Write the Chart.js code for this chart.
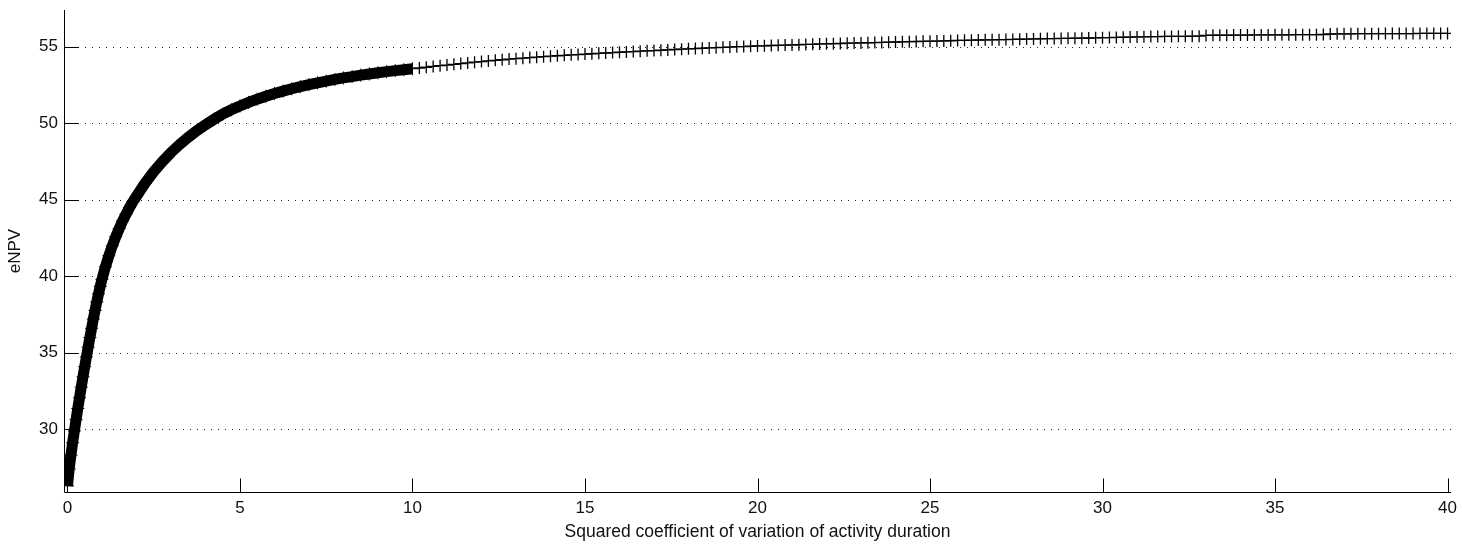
<!DOCTYPE html>
<html>
<head>
<meta charset="utf-8">
<script src="https://cdn.jsdelivr.net/npm/chart.js@4"></script>
<style>
  html, body { margin: 0; padding: 0; background: #fff; }
  canvas { display: block; }
</style>
</head>
<body>
<canvas id="grafico" width="1462" height="544"></canvas>
<script>
// ticks
const xTicks = [0, 5, 10, 15, 20, 25, 30, 35, 40];
const yTicks = [30, 35, 40, 45, 50, 55];

// parte densa (0 a 10)
const denseX = [0, 0.05, 0.1, 0.15, 0.2, 0.25, 0.3, 0.35, 0.4, 0.45, 0.5, 0.55, 0.6, 0.65, 0.7, 0.75, 0.8, 0.85, 0.9, 0.95, 1.0,
  1.1, 1.2, 1.3, 1.4, 1.5, 1.6, 1.7, 1.8, 1.9, 2.0,
  2.25, 2.5, 2.75, 3.0, 3.25, 3.5, 3.75, 4.0, 4.25, 4.5, 4.75, 5.0, 5.25, 5.5, 5.75, 6.0,
  6.25, 6.5, 6.75, 7.0, 7.25, 7.5, 7.75, 8.0, 8.25, 8.5, 8.75, 9.0, 9.25, 9.5, 9.75, 10.0];
const denseY = [26.3, 27.4, 28.3, 29.12, 29.89, 30.63, 31.36, 32.06, 32.75, 33.43, 34.09, 34.73, 35.37, 35.99, 36.6, 37.2, 37.77, 38.32, 38.85, 39.34, 39.8,
  40.62, 41.34, 41.99, 42.58, 43.12, 43.62, 44.07, 44.49, 44.88, 45.23,
  46.08, 46.83, 47.49, 48.08, 48.61, 49.08, 49.51, 49.9, 50.26, 50.6, 50.88, 51.13, 51.36, 51.57, 51.76, 51.94,
  52.1, 52.25, 52.39, 52.52, 52.64, 52.75, 52.86, 52.96, 53.05, 53.14, 53.22, 53.3, 53.37, 53.44, 53.5, 53.56];

// parte esparsa (10 a 40)
const sparseX = [10.2, 10.4, 10.6, 10.8, 11.0, 11.2, 11.4, 11.6, 11.8, 12.0,
  12.2, 12.4, 12.6, 12.8, 13.0, 13.2, 13.4, 13.6, 13.8, 14.0,
  14.2, 14.4, 14.6, 14.8, 15.0, 15.2, 15.4, 15.6, 15.8, 16.0,
  16.2, 16.4, 16.6, 16.8, 17.0, 17.2, 17.4, 17.6, 17.8, 18.0,
  18.2, 18.4, 18.6, 18.8, 19.0, 19.2, 19.4, 19.6, 19.8, 20.0,
  20.2, 20.4, 20.6, 20.8, 21.0, 21.2, 21.4, 21.6, 21.8, 22.0,
  22.2, 22.4, 22.6, 22.8, 23.0, 23.2, 23.4, 23.6, 23.8, 24.0,
  24.2, 24.4, 24.6, 24.8, 25.0, 25.2, 25.4, 25.6, 25.8, 26.0,
  26.2, 26.4, 26.6, 26.8, 27.0, 27.2, 27.4, 27.6, 27.8, 28.0,
  28.2, 28.4, 28.6, 28.8, 29.0, 29.2, 29.4, 29.6, 29.8, 30.0,
  30.2, 30.4, 30.6, 30.8, 31.0, 31.2, 31.4, 31.6, 31.8, 32.0,
  32.2, 32.4, 32.6, 32.8, 33.0, 33.2, 33.4, 33.6, 33.8, 34.0,
  34.2, 34.4, 34.6, 34.8, 35.0, 35.2, 35.4, 35.6, 35.8, 36.0,
  36.2, 36.4, 36.6, 36.8, 37.0, 37.2, 37.4, 37.6, 37.8, 38.0,
  38.2, 38.4, 38.6, 38.8, 39.0, 39.2, 39.4, 39.6, 39.8, 40.0];
const sparseY = [53.61, 53.66, 53.71, 53.76, 53.80, 53.85, 53.90, 53.94, 53.99, 54.03,
  54.07, 54.11, 54.15, 54.19, 54.22, 54.25, 54.29, 54.32, 54.35, 54.38,
  54.41, 54.44, 54.47, 54.49, 54.52, 54.54, 54.57, 54.59, 54.62, 54.64,
  54.66, 54.68, 54.71, 54.73, 54.75, 54.77, 54.79, 54.82, 54.84, 54.86,
  54.88, 54.90, 54.92, 54.94, 54.96, 54.98, 55.00, 55.01, 55.03, 55.05,
  55.06, 55.08, 55.09, 55.11, 55.12, 55.13, 55.15, 55.16, 55.18, 55.19,
  55.20, 55.21, 55.23, 55.24, 55.25, 55.26, 55.27, 55.28, 55.30, 55.31,
  55.32, 55.33, 55.34, 55.35, 55.36, 55.37, 55.38, 55.39, 55.41, 55.42,
  55.43, 55.44, 55.45, 55.45, 55.46, 55.47, 55.48, 55.49, 55.50, 55.51,
  55.52, 55.53, 55.53, 55.54, 55.55, 55.56, 55.56, 55.57, 55.58, 55.59,
  55.60, 55.61, 55.62, 55.63, 55.64, 55.65, 55.66, 55.66, 55.67, 55.67,
  55.68, 55.68, 55.69, 55.69, 55.74, 55.75, 55.75, 55.75, 55.76, 55.76,
  55.76, 55.77, 55.77, 55.77, 55.78, 55.78, 55.78, 55.79, 55.79, 55.79,
  55.79, 55.80, 55.83, 55.84, 55.84, 55.84, 55.85, 55.85, 55.85, 55.85,
  55.86, 55.86, 55.86, 55.86, 55.86, 55.87, 55.87, 55.87, 55.87, 55.87];

const fonte = { family: "'Liberation Sans', Arial, sans-serif", size: 17 };

function pontos(xs, ys) {
    return xs.map((x, i) => ({ x: x, y: ys[i] }));
}

// eixos estilo matlab: ticks para dentro, grade pontilhada
const eixosPlugin = {
    id: 'eixos',
    beforeDatasetsDraw(chart) {
        const { ctx, chartArea: a, scales: { x, y } } = chart;
        ctx.save();
        ctx.lineWidth = 1;

        ctx.strokeStyle = '#222';
        ctx.setLineDash([1, 6]);
        yTicks.forEach(v => {
            const py = Math.round(y.getPixelForValue(v)) + 0.5;
            ctx.beginPath();
            ctx.moveTo(a.left, py);
            ctx.lineTo(a.right, py);
            ctx.stroke();
        });
        ctx.setLineDash([]);

        ctx.strokeStyle = '#000';
        const esq = Math.round(a.left) + 0.5;
        const baixo = Math.round(a.bottom) + 0.5;
        ctx.beginPath();
        ctx.moveTo(esq, a.top);
        ctx.lineTo(esq, baixo);
        ctx.lineTo(a.right, baixo);
        ctx.stroke();

        ctx.beginPath();
        yTicks.forEach(v => {
            const py = Math.round(y.getPixelForValue(v)) + 0.5;
            ctx.moveTo(esq, py);
            ctx.lineTo(esq + 14, py);
        });
        xTicks.forEach(v => {
            const px = Math.round(x.getPixelForValue(v)) + 0.5;
            ctx.moveTo(px, baixo);
            ctx.lineTo(px, baixo - 14);
        });
        ctx.stroke();
        ctx.restore();
    }
};

new Chart(document.getElementById('grafico'), {
    type: 'scatter',
    data: {
        datasets: [
            {
                data: pontos(denseX, denseY),
                showLine: true,
                borderColor: '#000',
                borderWidth: 11,
                pointStyle: 'cross',
                pointRadius: 6.5,
                pointBorderWidth: 1,
                pointBorderColor: '#000'
            },
            {
                data: pontos(sparseX, sparseY),
                showLine: false,
                pointStyle: 'cross',
                pointRadius: 6,
                pointBorderWidth: 1.3,
                pointBorderColor: '#000'
            }
        ]
    },
    options: {
        responsive: false,
        animation: false,
        layout: { padding: { top: 10, right: 11, left: 0, bottom: 0 } },
        plugins: {
            legend: { display: false },
            tooltip: { enabled: false }
        },
        scales: {
            x: {
                type: 'linear',
                min: -0.1,
                max: 40.1,
                afterBuildTicks: s => { s.ticks = xTicks.map(v => ({ value: v })); },
                afterFit: s => { s.height = 52; s.paddingLeft = 0; s.paddingRight = 0; },
                grid: { display: false, drawTicks: false },
                border: { display: false },
                ticks: { padding: 6, color: '#111', font: fonte, maxRotation: 0, autoSkip: false },
                title: {
                    display: true,
                    text: 'Squared coefficient of variation of activity duration',
                    color: '#111',
                    font: { family: fonte.family, size: 17.5 },
                    padding: { top: 0, bottom: 1 }
                }
            },
            y: {
                type: 'linear',
                min: 25.9,
                max: 57.4,
                afterBuildTicks: s => { s.ticks = yTicks.map(v => ({ value: v })); },
                afterFit: s => { s.width = 64; s.paddingTop = 0; s.paddingBottom = 0; },
                grid: { display: false, drawTicks: false },
                border: { display: false },
                ticks: { padding: 6, color: '#111', font: fonte },
                title: {
                    display: true,
                    text: 'eNPV',
                    color: '#111',
                    font: fonte,
                    padding: { top: 5, bottom: 0 }
                }
            }
        }
    },
    plugins: [eixosPlugin]
});
</script>
</body>
</html>
